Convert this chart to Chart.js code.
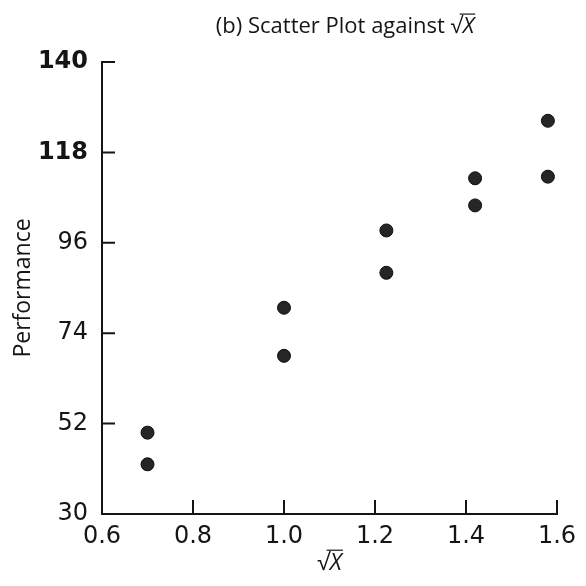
<!DOCTYPE html>
<html>
<head>
<meta charset="utf-8">
<script src="https://cdn.jsdelivr.net/npm/chart.js@4"></script>
<style>
  html, body { margin: 0; padding: 0; background: #fff; }
  #wrap { width: 586px; height: 586px; }
</style>
</head>
<body>
<div id="wrap"><canvas id="scatterChart" width="586" height="586"></canvas></div>
<script>
// values
const sqrtX = [0.70, 0.70, 1.00, 1.00, 1.225, 1.225, 1.42, 1.42, 1.58, 1.58];
const performance = [49.8, 42.1, 80.2, 68.5, 99.0, 88.7, 111.7, 105.1, 125.7, 112.1];
const xTicks = [0.6, 0.8, 1.0, 1.2, 1.4, 1.6];
const yTicks = [30, 52, 74, 96, 118, 140];

const FONT = '"Open Sans", "DejaVu Sans", sans-serif';
const TICK_FONT = '"DejaVu Sans", sans-serif';
const INK = '#151515';

// draws "prefix √X" with an italic X and a bar over it
function drawRootLabel(ctx, prefix, cx, baseline, size) {
  ctx.font = size + 'px ' + FONT;
  const wPre = ctx.measureText(prefix).width;
  const wRoot = ctx.measureText('√').width;
  ctx.font = 'italic ' + size + 'px ' + FONT;
  const wX = ctx.measureText('X').width;
  const x0 = cx - (wPre + wRoot + wX) / 2;
  ctx.fillStyle = INK;
  ctx.textAlign = 'left';
  ctx.textBaseline = 'alphabetic';
  ctx.font = size + 'px ' + FONT;
  ctx.fillText(prefix + '√', x0, baseline);
  ctx.font = 'italic ' + size + 'px ' + FONT;
  ctx.fillText('X', x0 + wPre + wRoot, baseline);
  ctx.strokeStyle = INK;
  ctx.lineWidth = 1.2;
  ctx.beginPath();
  const barY = baseline - size * 0.86;
  ctx.moveTo(x0 + wPre + wRoot * 0.75, barY);
  ctx.lineTo(x0 + wPre + wRoot + wX + 1, barY);
  ctx.stroke();
}

const decorations = {
  id: 'decorations',
  afterDraw(chart) {
    const ctx = chart.ctx;
    const xs = chart.scales.x;
    const ys = chart.scales.y;
    const area = chart.chartArea;
    ctx.save();
    // inward tick marks
    ctx.strokeStyle = INK;
    ctx.lineWidth = 2;
    ctx.beginPath();
    xs.ticks.forEach(t => {
      if (t.value <= xs.min) return;
      const px = xs.getPixelForValue(t.value);
      ctx.moveTo(px, area.bottom);
      ctx.lineTo(px, area.bottom - 14);
    });
    ys.ticks.forEach(t => {
      if (t.value <= ys.min) return;
      const py = ys.getPixelForValue(t.value);
      ctx.moveTo(area.left, py);
      ctx.lineTo(area.left + 13, py);
    });
    ctx.stroke();
    // title and x axis label
    drawRootLabel(ctx, '(b) Scatter Plot against ', 345, 33, 22);
    drawRootLabel(ctx, '', (area.left + area.right) / 2, 570, 23);
    ctx.restore();
  }
};

document.addEventListener('DOMContentLoaded', function () {
  const ctx = document.getElementById('scatterChart').getContext('2d');

  const data = {
    datasets: [{
      label: 'Performance',
      data: sqrtX.map((x, i) => ({ x: x, y: performance[i] })),
      backgroundColor: '#262626',
      borderColor: '#0d0d0d',
      borderWidth: 1,
      pointRadius: 6.5,
      pointHoverRadius: 6.5
    }]
  };

  const config = {
    type: 'scatter',
    data: data,
    options: {
      responsive: false,
      animation: false,
      layout: {
        padding: { top: 62, right: 29, left: 0, bottom: 0 }
      },
      plugins: {
        legend: { display: false },
        tooltip: { enabled: false },
        title: { display: false }
      },
      scales: {
        x: {
          type: 'linear',
          min: xTicks[0],
          max: xTicks[xTicks.length - 1],
          afterBuildTicks: scale => { scale.ticks = xTicks.map(v => ({ value: v })); },
          afterFit: scale => { scale.height = 72; },
          grid: { drawOnChartArea: false, drawTicks: false },
          border: { display: true, color: INK, width: 2 },
          ticks: {
            padding: 8,
            color: INK,
            font: { family: TICK_FONT, size: 24 },
            callback: v => Number(v).toFixed(1)
          }
        },
        y: {
          type: 'linear',
          min: yTicks[0],
          max: yTicks[yTicks.length - 1],
          afterBuildTicks: scale => { scale.ticks = yTicks.map(v => ({ value: v })); },
          afterFit: scale => { scale.width = 102; },
          grid: { drawOnChartArea: false, drawTicks: false },
          border: { display: true, color: INK, width: 2 },
          title: {
            display: true,
            text: 'Performance',
            color: INK,
            font: { family: FONT, size: 23 },
            padding: { top: 10, bottom: 0 }
          },
          ticks: {
            padding: 14,
            color: INK,
            // the two top labels print heavier in the original
            font: c => ({ family: TICK_FONT, size: 24, weight: c.tick && c.tick.value >= 118 ? 'bold' : 'normal' })
          }
        }
      }
    },
    plugins: [decorations]
  };

  new Chart(ctx, config);
});
</script>
</body>
</html>
